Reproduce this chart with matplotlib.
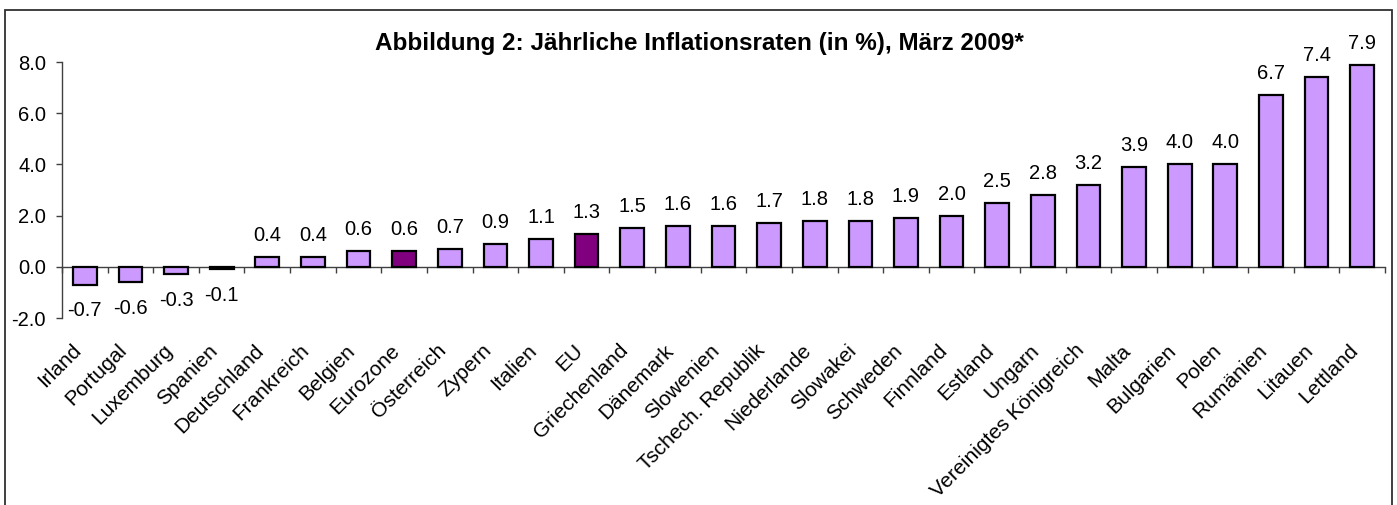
import matplotlib
matplotlib.use("Agg")
import matplotlib.pyplot as plt
import matplotlib.patches as patches
import matplotlib.transforms as mtransforms
import numpy as np

plt.rcParams['font.family'] = ['Liberation Sans', 'DejaVu Sans']

# Daten: jährliche Inflationsraten März 2009
laender = ['Irland', 'Portugal', 'Luxemburg', 'Spanien', 'Deutschland', 'Frankreich',
           'Belgien', 'Eurozone', 'Österreich', 'Zypern', 'Italien', 'EU',
           'Griechenland', 'Dänemark', 'Slowenien', 'Tschech. Republik', 'Niederlande',
           'Slowakei', 'Schweden', 'Finnland', 'Estland', 'Ungarn',
           'Vereinigtes Königreich', 'Malta', 'Bulgarien', 'Polen', 'Rumänien',
           'Litauen', 'Lettland']
raten = [-0.7, -0.6, -0.3, -0.1, 0.4, 0.4, 0.6, 0.6, 0.7, 0.9, 1.1, 1.3,
         1.5, 1.6, 1.6, 1.7, 1.8, 1.8, 1.9, 2.0, 2.5, 2.8,
         3.2, 3.9, 4.0, 4.0, 6.7, 7.4, 7.9]
hervorgehoben = ['Eurozone', 'EU']
y_ticks = [-2.0, 0.0, 2.0, 4.0, 6.0, 8.0]

farbe_hell = '#CC99FF'
farbe_dunkel = '#800080'
achsen_farbe = '#404040'

fig = plt.figure(figsize=(13.97, 5.05), dpi=100)
ax = fig.add_axes([62 / 1397, 1 - 318 / 505, (1385 - 62) / 1397, 256 / 505])

x = np.arange(len(laender))
farben = [farbe_dunkel if l in hervorgehoben else farbe_hell for l in laender]
ax.bar(x, raten, width=0.52, color=farben, edgecolor='black', linewidth=1.6, zorder=3)

ax.set_xlim(-0.5, len(laender) - 0.5)
ax.set_ylim(-2, 8)
ax.set_yticks(y_ticks)
ax.set_yticklabels([f'{v:.1f}' for v in y_ticks], fontsize=14.5)
ax.set_xticks(np.arange(len(laender) + 1) - 0.5)
ax.set_xticklabels([])

for s in ['top', 'right']:
    ax.spines[s].set_visible(False)
ax.spines['bottom'].set_position(('data', 0))
for s in ['left', 'bottom']:
    ax.spines[s].set_color(achsen_farbe)
    ax.spines[s].set_linewidth(1.0)
ax.tick_params(axis='both', direction='out', length=4.5, width=1.0, color=achsen_farbe)
ax.tick_params(axis='y', pad=7)

# Wertbeschriftungen
for xi, v in zip(x, raten):
    if v >= 0:
        off = mtransforms.offset_copy(ax.transData, fig=fig, x=0, y=11.5, units='points')
        ax.text(xi, v, f'{v:.1f}', ha='center', va='baseline', fontsize=14.5, transform=off)
    else:
        off = mtransforms.offset_copy(ax.transData, fig=fig, x=0, y=-12, units='points')
        ax.text(xi, v, f'{v:.1f}', ha='center', va='top', fontsize=14.5, transform=off)

# Kategorienbeschriftungen (45°)
lab_trans = mtransforms.offset_copy(ax.get_xaxis_transform(), fig=fig, x=-5, y=0, units='points')
for xi, name in zip(x, laender):
    ax.text(xi, -0.115, name, transform=lab_trans, rotation=45,
            rotation_mode='anchor', ha='right', va='center', fontsize=15)

fig.text(699 / 1397, 1 - 50 / 505, 'Abbildung 2: Jährliche Inflationsraten (in %), März 2009*',
         ha='center', va='baseline', fontsize=17.5, fontweight='bold')

# Rahmen um das Diagramm
rahmen = patches.Rectangle((4.5 / 1397, -0.05), (1392 - 4.5) / 1397, 1.05 - 9.5 / 505,
                           transform=fig.transFigure, fill=False, edgecolor='#303030',
                           linewidth=1.3)
fig.patches.append(rahmen)

fig.savefig('out.png', dpi=100)
